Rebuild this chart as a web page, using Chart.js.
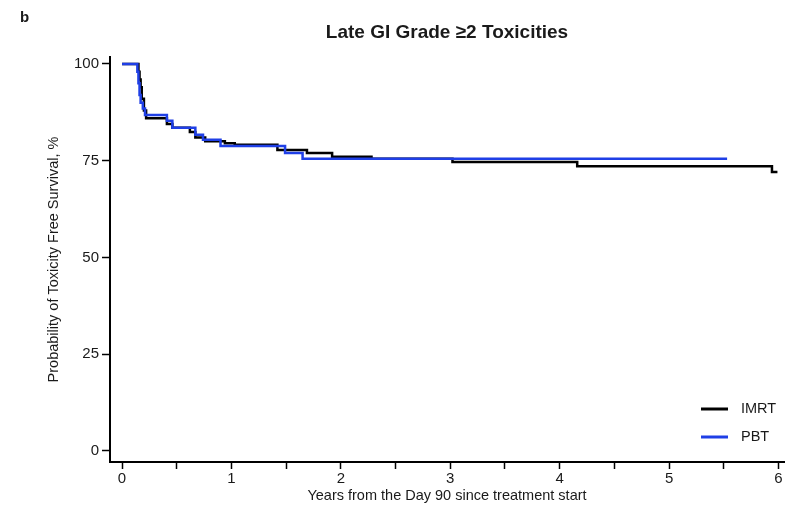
<!DOCTYPE html>
<html>
<head>
<meta charset="utf-8">
<title>Late GI Grade ≥2 Toxicities</title>
<script src="https://cdn.jsdelivr.net/npm/chart.js@4/dist/chart.umd.min.js"></script>
<style>
  html, body { margin: 0; padding: 0; background: #ffffff; }
  canvas { display: block; }
</style>
</head>
<body>
<canvas id="kmChart" width="793" height="505"></canvas>
<script>
// Kaplan-Meier steps (years, % toxicity-free)
const imrtYears = [0, 0.15, 0.16, 0.17, 0.18, 0.20, 0.22, 0.41, 0.46, 0.62, 0.67, 0.76, 0.94, 1.03, 1.42, 1.69, 1.92, 2.28, 3.02, 4.16, 5.94, 5.99];
const imrtSurvival = [100, 98, 96, 94, 91, 88, 86, 84.5, 83.5, 82.4, 81, 80, 79.5, 79.1, 77.8, 77, 76, 75.5, 74.7, 73.6, 72.1, 72.1];

const pbtYears = [0, 0.14, 0.15, 0.16, 0.17, 0.19, 0.21, 0.41, 0.46, 0.67, 0.74, 0.90, 1.49, 1.65, 5.53];
const pbtSurvival = [100, 98, 95, 92, 90, 88.5, 86.8, 85.3, 83.5, 81.7, 80.4, 78.8, 77, 75.5, 75.5];

const xTickValues = [0, 0.5, 1, 1.5, 2, 2.5, 3, 3.5, 4, 4.5, 5, 5.5, 6];
const yTickValues = [0, 25, 50, 75, 100];

const FONT = "'Liberation Sans', Arial, sans-serif";
const TEXT = "#1a1a1a";

const toPoints = (xs, ys) => xs.map((x, i) => ({ x: x, y: ys[i] }));

// Panel letter, centred title and the in-plot legend
const decorations = {
  id: "decorations",
  afterDraw(chart) {
    const ctx = chart.ctx;
    const area = chart.chartArea;
    ctx.save();
    ctx.fillStyle = TEXT;
    ctx.textBaseline = "middle";

    ctx.font = "bold 15px " + FONT;
    ctx.textAlign = "left";
    ctx.fillText("b", 20, 18);

    ctx.font = "bold 19px " + FONT;
    ctx.textAlign = "center";
    ctx.fillText("Late GI Grade ≥2 Toxicities", (area.left + area.right) / 2, 33);

    // legend, in dataset order
    ctx.font = "14.5px " + FONT;
    ctx.textAlign = "left";
    chart.data.datasets.forEach((ds, i) => {
      const y = 409 + i * 28;
      ctx.strokeStyle = ds.borderColor;
      ctx.lineWidth = 3;
      ctx.beginPath();
      ctx.moveTo(701, y);
      ctx.lineTo(728, y);
      ctx.stroke();
      ctx.fillText(ds.label, 741, y);
    });
    ctx.restore();
  }
};

new Chart(document.getElementById("kmChart"), {
  type: "line",
  data: {
    datasets: [
      {
        label: "IMRT",
        data: toPoints(imrtYears, imrtSurvival),
        borderColor: "#000000",
        borderWidth: 2.5,
        stepped: "before",
        pointRadius: 0,
        fill: false,
        order: 1
      },
      {
        label: "PBT",
        data: toPoints(pbtYears, pbtSurvival),
        borderColor: "#1f3fe6",
        borderWidth: 2.5,
        stepped: "before",
        pointRadius: 0,
        fill: false,
        order: 0
      }
    ]
  },
  options: {
    responsive: false,
    animation: false,
    layout: { padding: { left: 38, top: 57, right: 9, bottom: 0 } },
    plugins: {
      legend: { display: false },
      title: { display: false },
      tooltip: { enabled: false }
    },
    scales: {
      x: {
        type: "linear",
        min: -0.11,
        max: 6.05,
        afterBuildTicks: axis => { axis.ticks = xTickValues.map(v => ({ value: v })); },
        afterFit: axis => { axis.height = 43; },
        border: { display: true, color: "#000000", width: 2 },
        grid: { drawOnChartArea: false, drawTicks: true, tickLength: 7, color: "#000000", tickWidth: 1.5 },
        ticks: {
          autoSkip: false,
          maxRotation: 0,
          padding: 1,
          color: TEXT,
          font: { family: FONT, size: 15 },
          callback: v => (v % 1 === 0 ? v : "")
        },
        title: {
          display: true,
          text: "Years from the Day 90 since treatment start",
          color: TEXT,
          font: { family: FONT, size: 14.5 },
          padding: { top: 0, bottom: 0 }
        }
      },
      y: {
        type: "linear",
        min: -2.85,
        max: 101.8,
        afterBuildTicks: axis => { axis.ticks = yTickValues.map(v => ({ value: v })); },
        afterFit: axis => { axis.width = 72; },
        border: { display: true, color: "#000000", width: 2 },
        grid: { drawOnChartArea: false, drawTicks: true, tickLength: 8, color: "#000000", tickWidth: 1.5 },
        ticks: {
          padding: 3,
          color: TEXT,
          font: { family: FONT, size: 15 }
        },
        title: {
          display: true,
          text: "Probability of Toxicity Free Survival, %",
          color: TEXT,
          font: { family: FONT, size: 14.5 },
          padding: { top: 7, bottom: 0 }
        }
      }
    }
  },
  plugins: [decorations]
});
</script>
</body>
</html>
